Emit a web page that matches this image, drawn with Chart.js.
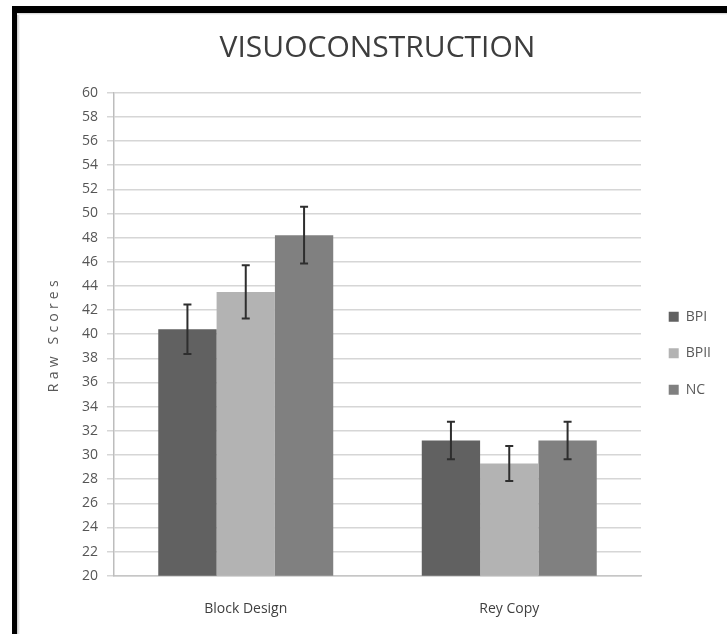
<!DOCTYPE html>
<html>
<head>
<meta charset="utf-8">
<script src="https://cdn.jsdelivr.net/npm/chart.js@4/dist/chart.umd.min.js"></script>
<style>
  html, body { margin: 0; padding: 0; background: #fff; }
  #wrap { position: relative; width: 727px; height: 634px; overflow: hidden; }
  #c { position: absolute; left: 0; top: 0; }
  .frame { position: absolute; background: #000; pointer-events: none; }
  .shade { position: absolute; pointer-events: none; }
</style>
</head>
<body>
<div id="wrap">
  <canvas id="c" width="727" height="634"></canvas>
  <div class="frame" style="left:12px;top:6px;width:5px;height:628px;"></div>
  <div class="frame" style="left:12px;top:6px;width:715px;height:7px;"></div>
  <div class="shade" style="left:17px;top:13px;width:3px;height:621px;background:linear-gradient(to right,#c4c4c4,#ffffff);"></div>
  <div class="shade" style="left:17px;top:13px;width:710px;height:2px;background:linear-gradient(to bottom,#cfcfcf,#ffffff);"></div>
</div>
<script>
// ---- data ----
const categories = ['Block Design', 'Rey Copy'];
const seriesNames = ['BPI', 'BPII', 'NC'];
const bpiValues  = [40.4, 31.2];
const bpiiValues = [43.5, 29.3];
const ncValues   = [48.2, 31.2];
const bpiErrors  = [2.05, 1.55];
const bpiiErrors = [2.2, 1.45];
const ncErrors   = [2.35, 1.55];
const yMin = 20, yMax = 60, yStep = 2;
const chartTitle = 'VISUOCONSTRUCTION';
const yAxisTitle = 'Raw Scores';

const seriesColors = ['#616161', '#b3b3b3', '#808080'];
const allValues = [bpiValues, bpiiValues, ncValues];
const allErrors = [bpiErrors, bpiiErrors, ncErrors];

const errorBarPlugin = {
  id: 'errorBars',
  afterDatasetsDraw(chart) {
    const ctx = chart.ctx;
    const ys = chart.scales.y;
    ctx.save();
    ctx.strokeStyle = '#2e2e2e';
    ctx.lineWidth = 2;
    chart.data.datasets.forEach((ds, i) => {
      const meta = chart.getDatasetMeta(i);
      meta.data.forEach((bar, j) => {
        const v = ds.data[j], e = ds.errors[j];
        const x = bar.x;
        const yt = ys.getPixelForValue(v + e);
        const yb = ys.getPixelForValue(v - e);
        ctx.beginPath();
        ctx.moveTo(x, yt); ctx.lineTo(x, yb);
        ctx.moveTo(x - 4, yt); ctx.lineTo(x + 4, yt);
        ctx.moveTo(x - 4, yb); ctx.lineTo(x + 4, yb);
        ctx.stroke();
      });
    });
    ctx.restore();
  }
};

const spacedTitlePlugin = {
  id: 'spacedTitle',
  beforeDraw(chart) {
    const ys = chart.scales.y;
    if (ys && !ys._spacedPatched) {
      const orig = ys.drawTitle.bind(ys);
      ys.drawTitle = function () {
        const c = this.ctx;
        const prev = c.letterSpacing;
        c.letterSpacing = '4.2px';
        orig();
        c.letterSpacing = prev || '0px';
      };
      ys._spacedPatched = true;
    }
  }
};

new Chart(document.getElementById('c'), {
  type: 'bar',
  data: {
    labels: categories,
    datasets: seriesNames.map((name, i) => ({
      label: name,
      data: allValues[i],
      errors: allErrors[i],
      backgroundColor: seriesColors[i],
      borderWidth: 0,
      barPercentage: 1,
      categoryPercentage: 0.664
    }))
  },
  options: {
    responsive: false,
    animation: false,
    devicePixelRatio: 1,
    layout: { padding: { top: 10, left: 0, right: 6, bottom: 0 } },
    plugins: {
      title: {
        display: true,
        text: chartTitle,
        fullSize: false,
        color: '#3d3d3d',
        font: { family: "'Open Sans', sans-serif", size: 30, weight: 'normal' },
        padding: { top: 20, bottom: 26.7 }
      },
      legend: {
        position: 'right',
        fullSize: false,
        title: { display: true, text: '', font: { size: 12 }, padding: { top: 23.8, bottom: 0 } },
        labels: {
          boxWidth: 10,
          boxHeight: 10,
          padding: 22.5,
          color: '#595959',
          font: { family: "'Open Sans', sans-serif", size: 14 }
        }
      },
      tooltip: { enabled: false }
    },
    scales: {
      x: {
        grid: { display: false },
        border: { display: true, color: '#c6c6c6', width: 1.5 },
        ticks: {
          color: '#404040',
          padding: 17,
          font: { family: "'Open Sans', sans-serif", size: 14 }
        },
        afterFit(s) { s.height = 58.3; }
      },
      y: {
        min: yMin,
        max: yMax,
        grid: { color: '#d6d6d6', lineWidth: 1.5, tickLength: 7 },
        border: { display: true, color: '#bdbdbd', width: 1.5 },
        ticks: {
          stepSize: yStep,
          padding: 9,
          color: '#555555',
          font: { family: "'Open Sans', sans-serif", size: 14 }
        },
        title: {
          display: true,
          text: yAxisTitle,
          color: '#595959',
          font: { family: "'Open Sans', sans-serif", size: 14 },
          padding: { top: 45.6, bottom: 0 }
        },
        afterFit(s) { s.width = 114; }
      },
      yr: {
        type: 'linear',
        position: 'right',
        display: true,
        grid: { display: false },
        border: { display: false },
        ticks: { display: false },
        afterFit(s) { s.width = 5.2; }
      }
    }
  },
  plugins: [errorBarPlugin, spacedTitlePlugin]
});
</script>
</body>
</html>
